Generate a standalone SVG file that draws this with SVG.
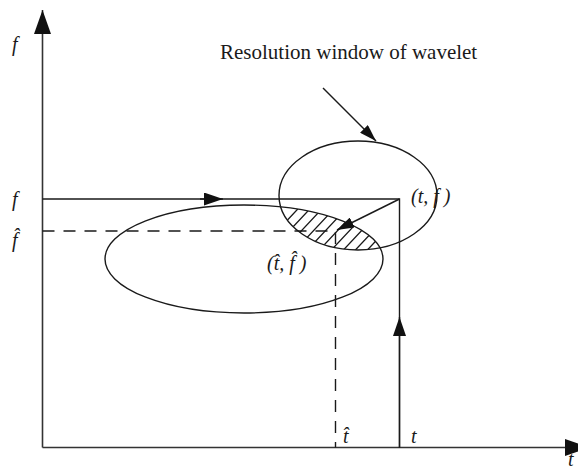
<svg xmlns="http://www.w3.org/2000/svg" width="578" height="470" viewBox="0 0 578 470">
<style>
.ln{fill:none;stroke:#1a1a1a;stroke-width:1.4}
.ax{fill:none;stroke:#333;stroke-width:1.6}
.da{fill:none;stroke:#1a1a1a;stroke-width:1.4;stroke-dasharray:12 9}
.el{fill:none;stroke:#1a1a1a;stroke-width:1.4}
.hatch{stroke:#1a1a1a;stroke-width:1.3}
.var{font-family:"Liberation Serif","Times New Roman",serif;font-style:italic;font-size:20px;fill:#1a1a1a}
.lbl{font-family:"Liberation Serif","Times New Roman",serif;font-size:21px;fill:#1a1a1a}
</style>
<defs>
<marker id="big" markerUnits="userSpaceOnUse" markerWidth="24" markerHeight="17" refX="24" refY="8.5" orient="auto">
<path d="M0,0 L24,8.5 L0,17 z" fill="#111"/>
</marker>
<marker id="small" markerUnits="userSpaceOnUse" markerWidth="19" markerHeight="13" refX="19" refY="6.5" orient="auto">
<path d="M0,0 L19,6.5 L0,13 z" fill="#111"/>
</marker>
<marker id="tiny" markerUnits="userSpaceOnUse" markerWidth="17" markerHeight="11" refX="17" refY="5.5" orient="auto">
<path d="M0,0 L17,5.5 L0,11 z" fill="#111"/>
</marker>
<clipPath id="clipA"><ellipse cx="358" cy="195.5" rx="79" ry="54.5"/></clipPath>
<clipPath id="clipB"><ellipse cx="244" cy="259" rx="139" ry="54"/></clipPath>
</defs>

<g id="axes">
<path class="ax" d="M42.5,447.5 L42.5,10" marker-end="url(#big)"/>
<path class="ax" d="M42.5,447.5 L589,447.5" marker-end="url(#big)"/>
</g>

<g id="hatching" clip-path="url(#clipA)">
<g clip-path="url(#clipB)">
<path class="hatch" d="M250,260 L310,196 M262,260 L322,196 M274,260 L334,196 M286,260 L346,196 M298,260 L358,196 M310,260 L370,196 M322,260 L382,196 M334,260 L394,196 M346,260 L406,196 M358,260 L418,196 M370,260 L430,196 M382,260 L442,196"/>
</g>
</g>

<g id="window-wavelet">
<ellipse class="el" cx="358" cy="195.5" rx="79" ry="54.5"/>
<text class="var" x="411" y="203">(t, f )</text>
</g>

<g id="window-hat">
<ellipse class="el" cx="244" cy="259" rx="139" ry="54"/>
<text class="var" x="267" y="270">(t̂, f̂ )</text>
</g>

<g id="connectors">
<path class="ln" d="M42.5,199 L399.5,199 L399.5,447.5"/>
<path class="ln" d="M200,199 L223,199" marker-end="url(#small)"/>
<path class="ln" d="M399.5,447.5 L399.5,317" marker-end="url(#small)"/>
<path class="ln" d="M399.5,199 L337,230" marker-end="url(#tiny)"/>
<path class="da" d="M42.5,231 L335.5,231 L335.5,447.5"/>
<path class="ln" d="M323,88 L376,141" marker-end="url(#tiny)"/>
</g>

<g id="labels">
<text class="lbl" x="220" y="59">Resolution window of wavelet</text>
<text class="var" x="12" y="51">f</text>
<text class="var" x="12" y="206">f</text>
<text class="var" x="12" y="247">f̂</text>
<text class="var" x="343" y="443">t̂</text>
<text class="var" x="411" y="443">t</text>
<text class="var" x="568" y="466">t</text>
</g>
</svg>
